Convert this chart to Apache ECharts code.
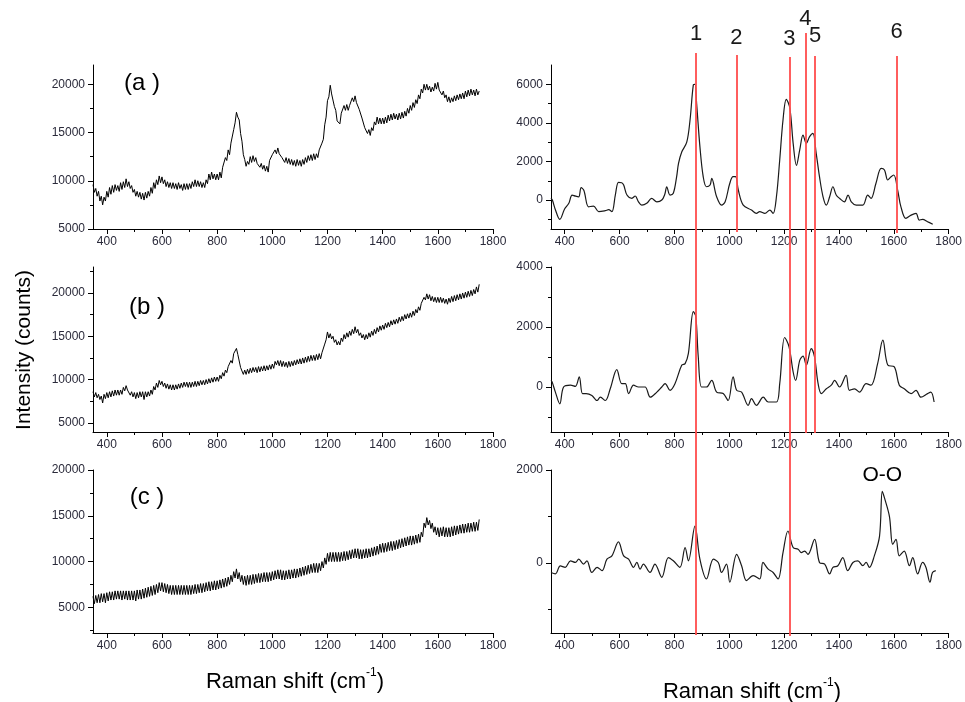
<!DOCTYPE html>
<html>
<head>
<meta charset="utf-8">
<script src="https://cdn.jsdelivr.net/npm/echarts@6/dist/echarts.min.js"></script>
<style>
  html, body { margin: 0; padding: 0; background: #fff; }
  #chart { width: 965px; height: 702px; }
</style>
</head>
<body>
<div id="chart"></div>
<script>
// Raman spectra: raw (left) and background-subtracted (right) for samples a, b, c.

// x axis (Raman shift, cm-1)
var X_MIN = 350, X_MAX = 1800;
var X_LABELS = [400, 600, 800, 1000, 1200, 1400, 1600, 1800];
var X_MINOR = [500, 700, 900, 1100, 1300, 1500, 1700];

// raw spectra sampled every 5 cm-1 from 350 (one row = 50 cm-1)
var RAW_START = 350, RAW_STEP = 5;
var rawA = [
  9600, 8800, 9200, 8400, 8900, 7900, 8400, 7500, 8300, 7900,
  8900, 8300, 9300, 8600, 9500, 8800, 9600, 9000, 9500, 8900,
  9800, 9100, 9900, 9300, 10200, 9400, 9900, 9200, 9500, 8800,
  9100, 8400, 8900, 8300, 8800, 8100, 8700, 8000, 8800, 8200,
  8900, 8400, 9300, 8700, 9800, 9200, 10100, 9600, 10500, 9800,
  10400, 9700, 10100, 9400, 9900, 9300, 9800, 9200, 9800, 9200,
  9700, 9100, 9800, 9200, 9600, 9000, 9700, 9100, 9700, 9100,
  9700, 9200, 9900, 9400, 10100, 9400, 10000, 9400, 9900, 9300,
  9800, 9300, 10100, 9700, 10700, 10100, 10900, 10200, 10700, 10100,
  10700, 10100, 10900, 10300, 11400, 11300, 12400, 12100, 13200, 12700,
  13900, 14100, 15300, 16000, 17100, 16600, 16300, 14900, 14100, 12700,
  12200, 11500, 12000, 11700, 12500, 11900, 12600, 12000, 12400, 11800,
  12000, 11400, 11800, 11200, 11600, 11000, 11500, 10900, 12100, 11900,
  12700, 12500, 13200, 12800, 13400, 12800, 13000, 12400, 12500, 11900,
  12400, 11800, 12300, 11700, 12200, 11600, 12100, 11500, 12200, 11600,
  12100, 11500, 12200, 11700, 12400, 11900, 12600, 12100, 12700, 12100,
  12800, 12200, 12800, 12400, 13200, 13000, 13900, 14300, 15800, 16600,
  18300, 18700, 19900, 19000, 18900, 17700, 17300, 16200, 16200, 15900,
  17000, 16800, 17800, 17300, 17900, 17300, 17800, 17600, 18600, 18200,
  18800, 18100, 18300, 17400, 17500, 16500, 16500, 15500, 15600, 14900,
  15300, 14700, 15500, 15200, 16100, 15800, 16600, 15900, 16500, 15900,
  16500, 15900, 16600, 16000, 16800, 16200, 16900, 16300, 17000, 16400,
  16900, 16300, 17000, 16400, 17100, 16500, 17200, 16700, 17500, 17000,
  17800, 17300, 18100, 17600, 18400, 18000, 18900, 18500, 19500, 19100,
  20000, 19400, 20000, 19400, 19800, 19200, 19700, 19300, 20100, 19500,
  20200, 19400, 19600, 18900, 19300, 18600, 18900, 18200, 18700, 18100,
  18600, 18200, 18800, 18300, 18900, 18400, 19000, 18500, 19100, 18500,
  19300, 18700, 19400, 18800, 19500, 18900, 19400, 18800, 19500, 18900,
  19300
];
var rawB = [
  8600, 8000, 8500, 7900, 8300, 7700, 8100, 7300, 8300, 7800,
  8500, 7900, 8600, 8000, 8700, 8100, 8800, 8200, 8800, 8200,
  8800, 8300, 9100, 8700, 9300, 8800, 8900, 8200, 8600, 8000,
  8500, 7800, 8500, 7900, 8600, 8000, 8600, 7700, 8600, 8000,
  8600, 8100, 8800, 8300, 9200, 8800, 9600, 9100, 9900, 9400,
  9800, 9200, 9600, 9000, 9500, 8900, 9400, 8800, 9400, 8800,
  9400, 8900, 9500, 9000, 9600, 9100, 9700, 9200, 9700, 9100,
  9700, 9100, 9700, 9200, 9800, 9200, 9800, 9300, 9900, 9400,
  9900, 9400, 10000, 9500, 10100, 9600, 10200, 9700, 10300, 9800,
  10300, 9800, 10500, 10100, 10800, 10400, 11100, 10800, 11500, 11300,
  12200, 11900, 13000, 12800, 13600, 12900, 12800, 11400, 11300, 10600,
  11100, 10600, 11200, 10700, 11300, 10800, 11400, 10900, 11400, 10800,
  11500, 10900, 11500, 11000, 11600, 11000, 11600, 11100, 11700, 11200,
  11800, 11300, 12100, 11700, 12200, 11600, 12200, 11500, 12100, 11500,
  12000, 11400, 12100, 11500, 12100, 11600, 12200, 11700, 12300, 11800,
  12400, 11800, 12500, 11900, 12600, 12000, 12700, 12100, 12800, 12200,
  12800, 12200, 12900, 12300, 13000, 12400, 13100, 13000, 14100, 14600,
  15500, 14800, 15300, 14700, 15000, 14300, 14600, 14000, 14400, 14000,
  14800, 14400, 15200, 14700, 15400, 14900, 15600, 15100, 15800, 15300,
  16100, 15400, 15800, 15100, 15400, 14800, 15200, 14600, 15200, 14700,
  15400, 14900, 15600, 15100, 15800, 15300, 16000, 15500, 16200, 15700,
  16300, 15800, 16500, 16000, 16600, 16100, 16800, 16300, 16900, 16400,
  17000, 16500, 17200, 16700, 17300, 16800, 17500, 17000, 17600, 17100,
  17700, 17200, 17900, 17400, 18100, 17700, 18400, 18000, 18800, 18600,
  19500, 19200, 19900, 19300, 19800, 19100, 19600, 19000, 19500, 18900,
  19500, 18900, 19500, 18900, 19400, 18800, 19300, 18700, 19400, 18900,
  19600, 19000, 19700, 19100, 19800, 19200, 19900, 19300, 20000, 19400,
  20100, 19500, 20200, 19600, 20300, 19700, 20400, 19900, 20700, 20100,
  21000
];
var rawC = [
  6200, 5400, 6300, 5500, 6400, 5500, 6500, 5600, 6500, 5500,
  6600, 5700, 6700, 5800, 6700, 5800, 6800, 5900, 6800, 5900,
  6800, 5800, 6800, 5900, 6800, 5800, 6800, 5800, 6800, 5800,
  6800, 5700, 6900, 5900, 6900, 5900, 7000, 6000, 7100, 6100,
  7200, 6200, 7300, 6300, 7400, 6400, 7500, 6600, 7700, 6800,
  7700, 6700, 7600, 6600, 7500, 6500, 7400, 6400, 7400, 6400,
  7400, 6400, 7400, 6400, 7400, 6400, 7400, 6400, 7400, 6400,
  7400, 6400, 7400, 6500, 7500, 6500, 7500, 6600, 7600, 6600,
  7600, 6700, 7700, 6800, 7800, 6800, 7800, 6900, 7900, 6900,
  7900, 7000, 8000, 7100, 8100, 7200, 8200, 7300, 8300, 7500,
  8500, 7800, 8900, 8200, 9200, 8100, 8800, 7800, 8500, 7500,
  8400, 7400, 8500, 7500, 8500, 7500, 8600, 7600, 8600, 7700,
  8700, 7700, 8700, 7800, 8800, 7800, 8800, 7800, 8800, 7900,
  8900, 8000, 9000, 8100, 9100, 8100, 9100, 8000, 9000, 8000,
  9000, 8100, 9100, 8100, 9100, 8200, 9200, 8200, 9200, 8300,
  9300, 8400, 9400, 8500, 9500, 8600, 9600, 8700, 9700, 8800,
  9800, 8800, 9800, 8800, 9800, 9000, 10000, 9300, 10400, 9700,
  10900, 10000, 11000, 10000, 11000, 10000, 11000, 10000, 11000, 10000,
  11000, 10100, 11100, 10100, 11100, 10200, 11200, 10300, 11300, 10400,
  11400, 10400, 11400, 10300, 11300, 10300, 11300, 10400, 11400, 10400,
  11400, 10500, 11500, 10600, 11600, 10700, 11700, 10800, 11900, 11000,
  12000, 11000, 12000, 11100, 12100, 11200, 12200, 11200, 12200, 11300,
  12300, 11400, 12400, 11500, 12500, 11600, 12600, 11700, 12700, 11800,
  12800, 11800, 12800, 11900, 12900, 12000, 13000, 12100, 13200, 12700,
  14200, 13700, 14800, 14000, 14500, 13600, 14200, 13200, 13800, 12900,
  13700, 12700, 13700, 12800, 13800, 12700, 13700, 12700, 13700, 12700,
  13800, 12800, 13900, 12900, 13900, 13000, 14000, 13100, 14100, 13100,
  14100, 13200, 14200, 13200, 14200, 13300, 14300, 13300, 14300, 13400,
  14600
];

// processed spectra [shift, counts]
var procA = [
  [350, 100], [355, 0], [366, -500], [382, -1000], [400, -450], [415, -170], [427, 260], [440, 200],
  [451, 170], [460, 640], [470, 500], [487, -350], [505, -310], [524, -600], [548, -550], [560, -500],
  [572, -600], [585, 300], [596, 920], [608, 900], [615, 780], [627, 260], [645, 90], [657, 210],
  [669, -90], [681, -260], [699, -170], [717, 90], [736, -90], [754, 0], [765, 300], [772, 690],
  [784, 260], [796, 350], [808, 1200], [815, 1900], [827, 2500], [845, 3000], [857, 4150], [869, 5970],
  [875, 6000], [881, 5000], [893, 2770], [905, 1210], [917, 690], [930, 780], [936, 1120], [954, 170],
  [972, -260], [985, -90], [1002, 870], [1014, 1210], [1023, 1210], [1033, 520], [1051, -260], [1081, -520],
  [1099, -690], [1111, -600], [1130, -690], [1148, -520], [1160, -690], [1172, 170], [1184, 2080], [1196, 4150],
  [1208, 5220], [1221, 4760], [1233, 2940], [1245, 1800], [1257, 2600], [1269, 3370], [1281, 2940], [1293, 3290],
  [1305, 3460], [1317, 2420], [1329, 1210], [1342, 170], [1354, -260], [1366, 170], [1378, 690], [1390, 260],
  [1402, 90], [1420, -90], [1433, 260], [1445, -90], [1463, -260], [1487, -260], [1505, 260], [1517, 90],
  [1535, 870], [1554, 1640], [1566, 1560], [1578, 1040], [1590, 1210], [1600, 1300], [1614, 520], [1626, -350],
  [1644, -950], [1663, -780], [1681, -690], [1693, -1040], [1705, -1000], [1723, -1120], [1742, -1250]
];
var procB = [
  [350, 220], [354, 170], [366, -170], [382, -560], [396, 0], [421, 60], [439, 20], [453, 340],
  [465, -220], [478, -220], [499, -280], [518, -450], [530, -340], [548, -450], [566, -60], [590, 580],
  [608, 110], [621, 110], [633, -220], [651, 60], [669, 0], [693, 0], [712, -340], [736, -170],
  [754, 0], [766, 110], [784, -110], [802, 110], [827, 730], [839, 780], [851, 1120], [869, 2510],
  [878, 2350], [887, 1000], [899, 0], [917, 0], [936, 220], [954, -170], [978, -220], [996, -450],
  [1014, 340], [1027, -110], [1045, -170], [1069, -610], [1081, -390], [1099, -610], [1124, -340], [1142, -500],
  [1172, -500], [1184, 110], [1202, 1650], [1218, 1340], [1233, 500], [1242, 220], [1257, 890], [1269, 1030],
  [1281, 730], [1299, 1280], [1311, 1000], [1324, 110], [1336, -220], [1354, -60], [1372, 60], [1384, 220],
  [1402, 0], [1426, 390], [1438, -110], [1457, -60], [1475, -170], [1499, 110], [1517, 60], [1541, 780],
  [1560, 1560], [1578, 730], [1602, 670], [1620, 60], [1638, -60], [1663, -220], [1681, -110], [1699, -340],
  [1723, -220], [1735, -170], [1747, -500]
];
var procC = [
  [350, -200], [366, -230], [384, -60], [402, -90], [421, 50], [439, 15], [451, 85], [469, -20],
  [481, 50], [499, -200], [518, -90], [536, -160], [554, 85], [572, 155], [596, 455], [615, 155],
  [633, 85], [651, -90], [663, 15], [675, -130], [687, -20], [711, -200], [729, -20], [754, -305],
  [778, 120], [796, 50], [820, -90], [839, 335], [851, 50], [875, 795], [893, 85], [917, -340],
  [942, 85], [960, 15], [972, -200], [990, -20], [1002, -410], [1027, 190], [1045, -55], [1063, -375],
  [1087, -270], [1111, -340], [1123, 15], [1142, -130], [1160, -200], [1178, -340], [1196, 225], [1214, 690],
  [1233, 335], [1251, 300], [1263, 225], [1275, 260], [1287, 190], [1311, 510], [1329, 15], [1348, -20],
  [1366, -230], [1378, -90], [1396, -55], [1414, 120], [1432, -160], [1451, 15], [1469, 50], [1487, -55],
  [1499, 15], [1511, -90], [1529, 155], [1548, 580], [1558, 1540], [1566, 1400], [1584, 1005], [1596, 405],
  [1608, 510], [1620, 155], [1638, 260], [1657, -55], [1669, 120], [1687, -230], [1705, 15], [1717, -90],
  [1732, -410], [1741, -200], [1753, -160]
];

// y axes
var RAW_RANGES = [[5000, 22000], [3950, 23000], [2200, 20000]];
var RAW_LABELS = [5000, 10000, 15000, 20000];
var RAW_MINOR = [[7500, 12500, 17500], [7500, 12500, 17500, 22500], [2500, 7500, 12500, 17500]];
var PROC_RANGES = [[-1500, 7000], [-1500, 4000], [-1500, 2000]];
var PROC_LABELS = [[0, 2000, 4000, 6000], [0, 2000, 4000], [0, 2000]];
var PROC_MINOR = [[-1000, 1000, 3000, 5000], [-1000, 1000, 3000], [-1000, 1000]];

// marked bands
var PEAK_POS = [875, 1020, 1212, 1270, 1305, 1600];
var PEAK_NAMES = ['1', '2', '3', '4', '5', '6'];
var OO_PEAK = [1558, 1540];
var PANEL_TAGS = ['(a )', '(b )', '(c )'];

// layout (pixels)
var LEFT_BOX = { left: 93, width: 400 };
var RIGHT_BOX = { left: 551, width: 401 };
var ROWS = [{ top: 65, height: 164 }, { top: 267, height: 165 }, { top: 470, height: 163 }];
var LINE_TOP = [53, 55, 57, 33, 56, 56];
var LINE_BOTTOM = [635, 232, 636, 433, 433, 233];
var LABEL_GAP = [8, 6, 7, 3, 9, 13];

var FONT = '"Liberation Sans", Arial, sans-serif';
var grids = [], xAxes = [], yAxes = [], series = [];

function plain(v) { return String(v); }

function axisPair(list, dim, gi, min, max, labels, minor) {
  list.push({
    type: 'value', gridIndex: gi, min: min, max: max,
    position: dim === 'x' ? 'bottom' : 'left',
    axisLine: { show: true, onZero: false, lineStyle: { color: '#000', width: 1 } },
    axisTick: { show: true, customValues: labels, length: 5, lineStyle: { color: '#000' } },
    axisLabel: {
      show: true, customValues: labels, formatter: plain, color: '#2a2a3a', fontSize: 12,
      fontFamily: FONT, margin: dim === 'x' ? 7 : 8
    },
    splitLine: { show: false }
  });
  list.push({
    type: 'value', gridIndex: gi, min: min, max: max,
    position: dim === 'x' ? 'bottom' : 'left',
    axisLine: { show: false, onZero: false },
    axisTick: { show: true, customValues: minor, length: 3, lineStyle: { color: '#000' } },
    axisLabel: { show: false },
    splitLine: { show: false }
  });
  return list.length - 2;
}

function addPanel(box, row, yr, yLabels, yMinor, data, extra) {
  var gi = grids.length;
  grids.push({ left: box.left, width: box.width, top: row.top, height: row.height });
  var xi = axisPair(xAxes, 'x', gi, X_MIN, X_MAX, X_LABELS, X_MINOR);
  var yi = axisPair(yAxes, 'y', gi, yr[0], yr[1], yLabels, yMinor);
  var s = {
    type: 'line', xAxisIndex: xi, yAxisIndex: yi, data: data,
    symbol: 'none', silent: true,
    lineStyle: { color: '#000', width: 1 }
  };
  for (var k in extra) s[k] = extra[k];
  series.push(s);
}

function rawPairs(vals) {
  return vals.map(function (v, i) { return [RAW_START + i * RAW_STEP, v]; });
}

var raws = [rawA, rawB, rawC];
var procs = [procA, procB, procC];
for (var r = 0; r < 3; r++) {
  addPanel(LEFT_BOX, ROWS[r], RAW_RANGES[r], RAW_LABELS, RAW_MINOR[r], rawPairs(raws[r]), {});
  var extra = { smooth: 0.35, lineStyle: { color: '#1a1a1a', width: 1.2 } };
  if (r === 2) {
    extra.markPoint = {
      symbol: 'circle', symbolSize: 0, silent: true,
      label: { show: true, formatter: 'O-O', color: '#000', fontSize: 21, fontFamily: FONT, offset: [0, -16] },
      data: [{ coord: OO_PEAK }]
    };
  }
  addPanel(RIGHT_BOX, ROWS[r], PROC_RANGES[r], PROC_LABELS[r], PROC_MINOR[r], procs[r], extra);
}

// red band markers, one overlay grid per line so each can have its own extent
PEAK_POS.forEach(function (pos, i) {
  var gi = grids.length;
  grids.push({ left: RIGHT_BOX.left, width: RIGHT_BOX.width, top: LINE_TOP[i], height: LINE_BOTTOM[i] - LINE_TOP[i] });
  xAxes.push({ type: 'value', gridIndex: gi, min: X_MIN, max: X_MAX, show: false });
  yAxes.push({ type: 'value', gridIndex: gi, min: 0, max: 1, show: false });
  series.push({
    type: 'line', xAxisIndex: xAxes.length - 1, yAxisIndex: yAxes.length - 1, data: [],
    markLine: {
      silent: true, symbol: 'none',
      lineStyle: { color: '#ff4d4d', width: 2, type: 'solid', opacity: 0.9 },
      label: {
        show: true, position: 'end', formatter: PEAK_NAMES[i], distance: LABEL_GAP[i],
        color: '#000', fontSize: 22, fontFamily: FONT
      },
      data: [{ xAxis: pos }]
    }
  });
});

var graphics = [];
var TAG_POS = [[142, 83], [147, 307], [147, 497]];
PANEL_TAGS.forEach(function (t, i) {
  graphics.push({
    type: 'text', x: TAG_POS[i][0], y: TAG_POS[i][1], silent: true,
    style: { text: t, fill: '#000', font: '24px ' + FONT, align: 'center', verticalAlign: 'middle' }
  });
});
graphics.push({
  type: 'text', x: 24, y: 350, rotation: Math.PI / 2, silent: true,
  style: { text: 'Intensity (counts)', fill: '#000', font: '21px ' + FONT, align: 'center', verticalAlign: 'middle' }
});
function ramanTitle(x, y) {
  return {
    type: 'text', x: x, y: y, silent: true,
    style: {
      text: '{a|Raman shift (cm}{s|-1}{a|)}', align: 'center', verticalAlign: 'middle',
      rich: {
        a: { fontSize: 22, fontFamily: FONT, fill: '#000', lineHeight: 26, verticalAlign: 'bottom' },
        s: { fontSize: 12, fontFamily: FONT, fill: '#000', lineHeight: 26, verticalAlign: 'top' }
      }
    }
  };
}
graphics.push(ramanTitle(295, 680));
graphics.push(ramanTitle(752, 690));

var chart = echarts.init(document.getElementById('chart'), null, { renderer: 'canvas' });
chart.setOption({
  animation: false,
  backgroundColor: '#fff',
  textStyle: { fontFamily: FONT },
  grid: grids,
  xAxis: xAxes,
  yAxis: yAxes,
  series: series,
  graphic: graphics
});
</script>
</body>
</html>
